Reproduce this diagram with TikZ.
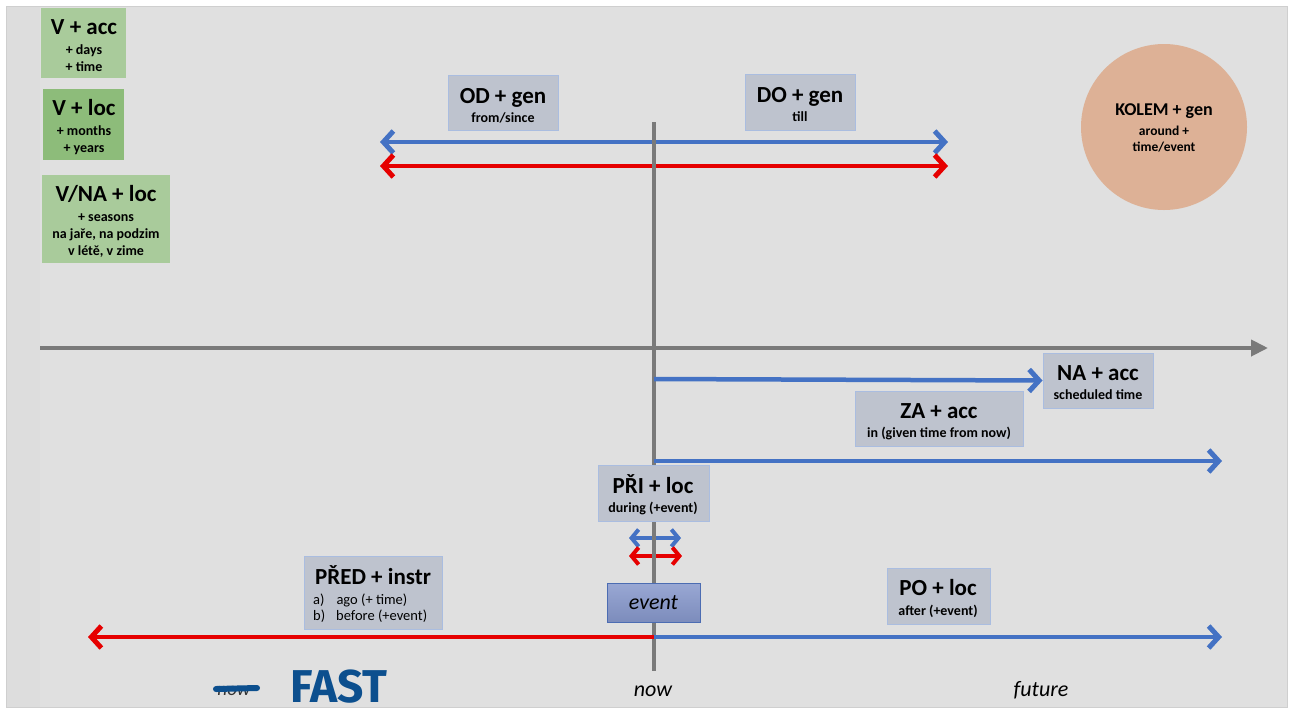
\documentclass[tikz,border=0pt]{standalone}
\usepackage{fontspec}
\setmainfont{Carlito}
\newfontfamily\handfont{Fira Sans}
\usetikzlibrary{arrows.meta}
\definecolor{panel}{HTML}{E0E0E0}
\definecolor{strip}{HTML}{DDDDDD}
\definecolor{paneledge}{HTML}{CFCFCF}
\definecolor{axisgray}{HTML}{7A7A7A}
\definecolor{arrblue}{HTML}{4472C4}
\definecolor{arrred}{HTML}{E60000}
\definecolor{boxfill}{HTML}{BEC3CE}
\definecolor{boxedge}{HTML}{AABDE0}
\definecolor{greenA}{HTML}{A9CB9B}
\definecolor{greenB}{HTML}{8DBC7A}
\definecolor{peach}{HTML}{DDB196}
\definecolor{evfill}{HTML}{8798CC}
\definecolor{evedge}{HTML}{4C6CB2}
\definecolor{hand}{HTML}{0C4F8E}
\tikzset{
  lbox/.style={draw=boxedge, fill=boxfill, line width=1pt},
  gbox/.style={draw=none, fill=greenA},
  ttl/.style={anchor=base, inner sep=0pt, font=\fontsize{23}{26}\selectfont\bfseries},
  sub/.style={anchor=base, inner sep=0pt, font=\fontsize{14}{16}\selectfont\bfseries},
  gsub/.style={anchor=base, inner sep=0pt, font=\fontsize{14}{16}\selectfont\bfseries},
  itl/.style={anchor=base, inner sep=0pt, font=\fontsize{22}{26}\selectfont\itshape},
  bluearr/.style={draw=arrblue, line width=4.5pt},
  redarr/.style={draw=arrred, line width=4.5pt},
  axisline/.style={draw=axisgray, line width=4pt}
}
\begin{document}
\begin{tikzpicture}[x=1pt,y=-1pt]
\useasboundingbox (0,0) rectangle (1290,713);
% panel
\fill[white] (0,0) rectangle (1290,713);
\draw[paneledge, fill=panel, line width=1pt] (6,6) rectangle (1287,707);
\fill[strip] (6.5,6.5) rectangle (40,706.5);

% coordinates
\coordinate (axL) at (40,348);
\coordinate (axR) at (1268,348);
\coordinate (vT) at (654,122);
\coordinate (vB) at (654,671);
\coordinate (t1L) at (380,142);
\coordinate (t1R) at (948,142);
\coordinate (t2L) at (380,166);
\coordinate (t2R) at (948,166);
\coordinate (naS) at (654,379);
\coordinate (zaS) at (654,461);
\coordinate (zaE) at (1222,461);
\coordinate (p1L) at (629,538);
\coordinate (p1R) at (681,538);
\coordinate (p2L) at (629,556);
\coordinate (p2R) at (682,556);
\coordinate (bM) at (654,637);
\coordinate (bL) at (88,637);
\coordinate (bR) at (1222,637);

% top arrows
\draw[bluearr, arrows={{Straight Barb[length=10pt,width=22pt,line width=5pt]}-{Straight Barb[length=10pt,width=22pt,line width=5pt]}}] (t1L) -- (t1R);
\draw[redarr, arrows={{Straight Barb[length=10pt,width=22pt,line width=5pt]}-{Straight Barb[length=10pt,width=22pt,line width=5pt]}}] (t2L) -- (t2R);
% small PRI arrows
\draw[bluearr, line width=3.5pt, arrows={{Straight Barb[length=7pt,width=17pt,line width=4pt]}-{Straight Barb[length=7pt,width=17pt,line width=4pt]}}] (p1L) -- (p1R);
\draw[redarr, line width=3.5pt, arrows={{Straight Barb[length=7pt,width=17pt,line width=4pt]}-{Straight Barb[length=7pt,width=17pt,line width=4pt]}}] (p2L) -- (p2R);

% axes
\draw[axisline, -{Triangle[length=17pt,width=16pt]}] (axL) -- (axR);
\draw[axisline] (vT) -- (vB);

% boxes
\node[lbox, minimum width=110pt, minimum height=55pt, inner sep=0pt] (odbox) at (503,102.5) {};
\node[lbox, minimum width=110pt, minimum height=56pt, inner sep=0pt] (dobox) at (800,102) {};
\node[lbox, minimum width=110pt, minimum height=55pt, inner sep=0pt] (nabox) at (1098,380.5) {};
\node[lbox, minimum width=168pt, minimum height=55pt, inner sep=0pt] (zabox) at (939,418.5) {};
\node[lbox, minimum width=111pt, minimum height=56pt, inner sep=0pt] (pribox) at (653.5,493) {};
\node[lbox, minimum width=138pt, minimum height=73pt, inner sep=0pt] (predbox) at (373,592.5) {};
\node[lbox, minimum width=103pt, minimum height=56pt, inner sep=0pt] (pobox) at (938.5,596) {};
\node[draw=evedge, line width=1pt, top color=evfill!85!white, bottom color=evfill!92!black, minimum width=93pt, minimum height=39pt, inner sep=0pt] (evbox) at (653.5,602.5) {};

% arrows to the right / bottom
\draw[bluearr, -{Straight Barb[length=10pt,width=22pt,line width=5pt]}] (naS) -- (nabox.west);
\draw[bluearr, -{Straight Barb[length=10pt,width=22pt,line width=5pt]}] (zaS) -- (zaE);
\draw[redarr, -{Straight Barb[length=10pt,width=22pt,line width=5pt]}] (bM) -- (bL);
\draw[bluearr, -{Straight Barb[length=10pt,width=22pt,line width=5pt]}] (bM) -- (bR);

% green boxes
\node[gbox, minimum width=85pt, minimum height=70pt, inner sep=0pt] (vacc) at (83.5,43) {};
\node[gbox, fill=greenB, minimum width=81pt, minimum height=71pt, inner sep=0pt] (vloc) at (83.5,124.5) {};
\node[gbox, minimum width=128pt, minimum height=88pt, inner sep=0pt] (vnaloc) at (106,219) {};

% circle
\node[circle, fill=peach, minimum size=166pt, inner sep=0pt] (kolem) at (1164,127) {};

% texts
\node[ttl] (odT) at (503,103) {OD + gen};
\node[sub] (odS) at (503,122) {from/since};
\node[ttl] (doT) at (800,102) {DO + gen};
\node[sub] (doS) at (800,121) {till};
\node[ttl] (naT) at (1098,380) {NA + acc};
\node[sub] (naS2) at (1098,399) {scheduled time};
\node[ttl] (zaT) at (939,418) {ZA + acc};
\node[sub] (zaS2) at (939,437) {in (given time from now)};
\node[ttl] (priT) at (653,493) {PŘI + loc};
\node[sub] (priS) at (653,512) {during (+event)};
\node[ttl] (poT) at (938,595) {PO + loc};
\node[sub] (poS) at (938,615) {after (+event)};
\node[ttl] (predT) at (373,584) {PŘED + instr};
\node[anchor=base west, inner sep=0pt, font=\fontsize{14.5}{16}\selectfont] (predA) at (313,604) {a)\hspace{12pt}ago (+ time)};
\node[anchor=base west, inner sep=0pt, font=\fontsize{14.5}{16}\selectfont] (predB) at (313,620) {b)\hspace{11pt}before (+event)};
\node[itl] (evT) at (653.5,609) {event};

\node[ttl] (vaccT) at (84,34) {V + acc};
\node[gsub] (vaccA) at (84,54) {+ days};
\node[gsub] (vaccB) at (84,71) {+ time};
\node[ttl] (vlocT) at (84,115) {V + loc};
\node[gsub] (vlocA) at (84,135) {+ months};
\node[gsub] (vlocB) at (84,152) {+ years};
\node[ttl] (vnaT) at (106,201) {V/NA + loc};
\node[gsub] (vnaA) at (106,221) {+ seasons};
\node[gsub] (vnaB) at (106,238) {na jaře, na podzim};
\node[gsub] (vnaC) at (106,255) {v létě, v zime};

\node[ttl, font=\fontsize{18}{20}\selectfont\bfseries] (kolT) at (1164,115) {KOLEM + gen};
\node[sub, font=\fontsize{13.5}{15}\selectfont\bfseries] (kolA) at (1164,135) {around +};
\node[sub, font=\fontsize{13.5}{15}\selectfont\bfseries] (kolB) at (1164,151) {time/event};

\node[itl] (nowT) at (653,696) {now};
\node[itl] (futT) at (1041,696) {future};

% handwritten annotation
\node[anchor=base, inner sep=0pt, font=\fontsize{19}{22}\selectfont\itshape, text=black!80] (oldnow) at (234,695) {now};
\coordinate (strkL) at (216,689);
\coordinate (strkR) at (257,688);
\draw[hand, line width=6pt, line cap=round] (strkL) -- (strkR);
\node[anchor=base west, inner sep=0pt, font=\handfont\bfseries\fontsize{46}{50}\selectfont, text=hand] (pastT) at (290,702) {FAST};
\end{tikzpicture}
\end{document}
